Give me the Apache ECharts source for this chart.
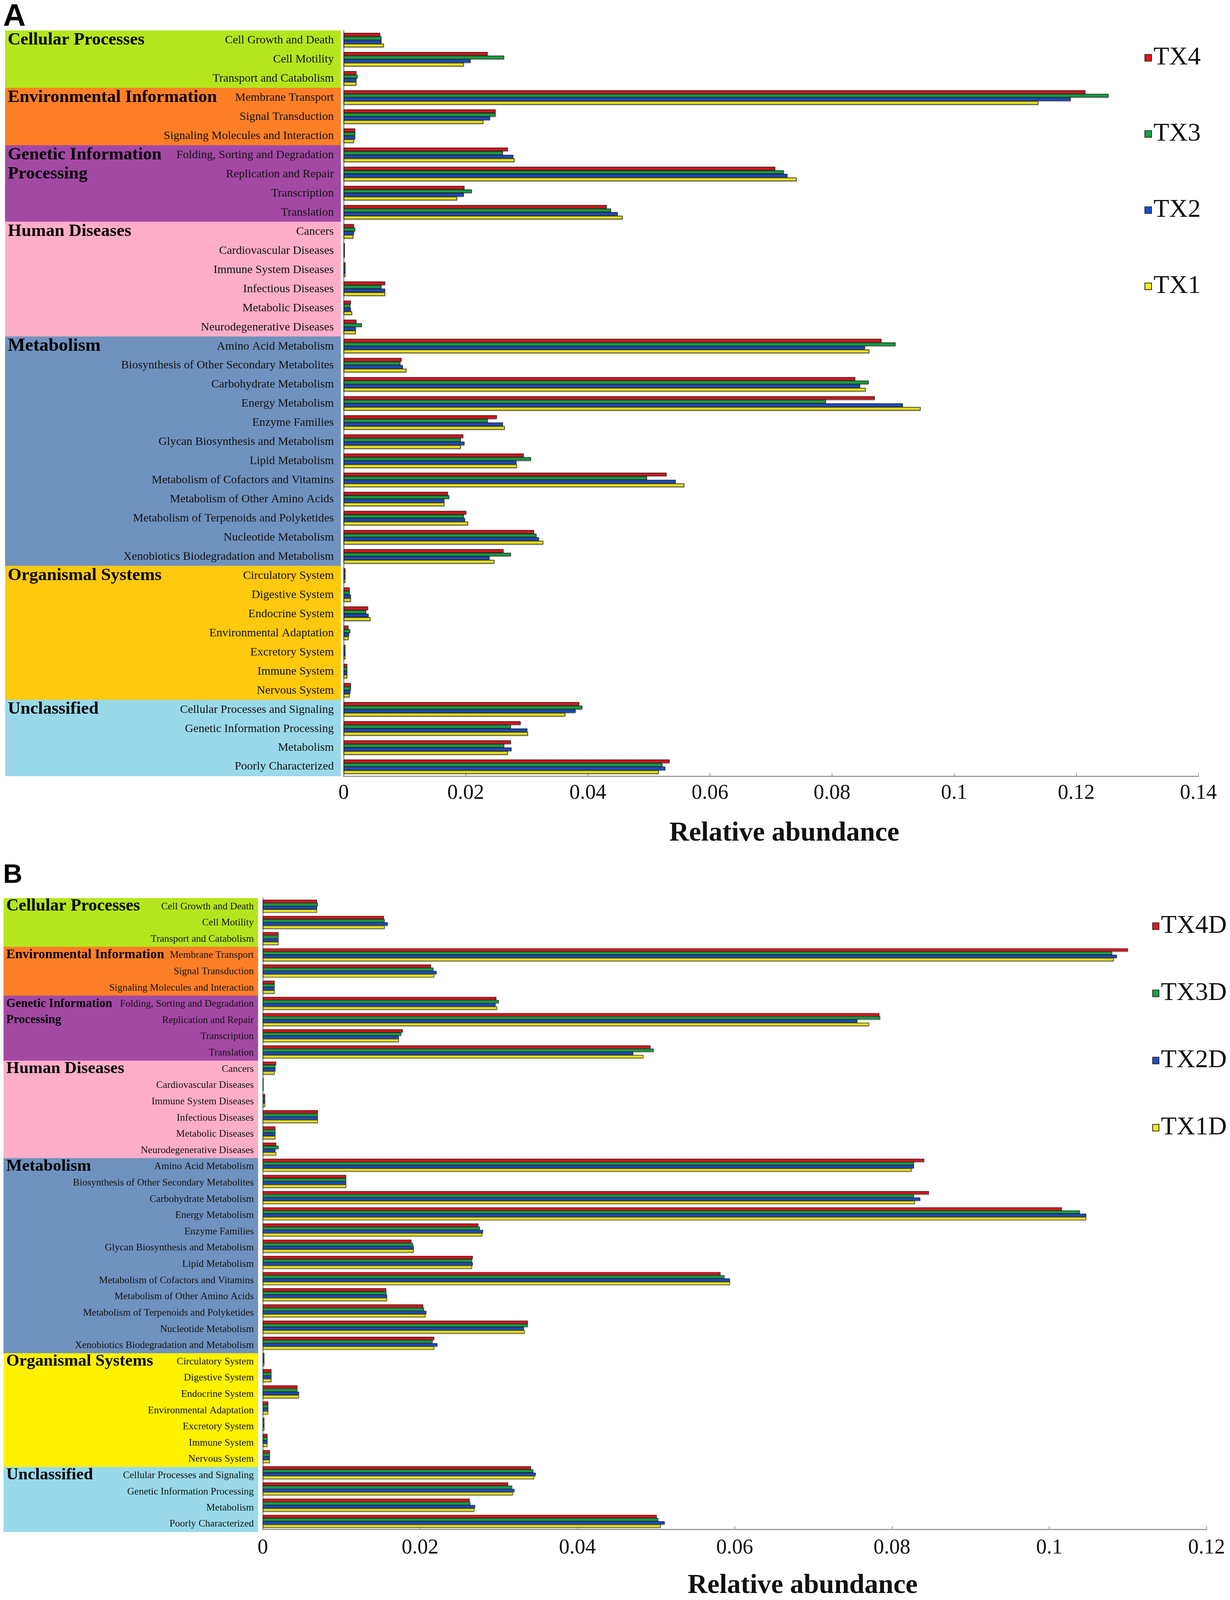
<!DOCTYPE html>
<html>
<head>
<meta charset="utf-8">
<title>KEGG relative abundance</title>
<script src="https://cdn.jsdelivr.net/npm/echarts@6/dist/echarts.min.js"></script>
<style>
  html, body { margin: 0; padding: 0; background: #fff; overflow: hidden; }
  #main { width: 3150px; height: 4236px; }
</style>
</head>
<body>
<div id="main"></div>
<script>
// KEGG level-1 groups and how many level-2 rows each one holds
var groupNames = ['Cellular Processes', 'Environmental Information', 'Genetic Information\nProcessing',
    'Human Diseases', 'Metabolism', 'Organismal Systems', 'Unclassified'];
var groupSizes = [3, 3, 4, 6, 12, 7, 4];
var groupColorsA = ['#b5e61d', '#ff7f27', '#a349a4', '#ffaec9', '#7092be', '#ffc90e', '#99d9ea'];
var groupColorsB = ['#b5e61d', '#ff7f27', '#a349a4', '#ffaec9', '#7092be', '#fff200', '#99d9ea'];

var categories = [
    'Cell Growth and Death', 'Cell Motility', 'Transport and Catabolism',
    'Membrane Transport', 'Signal Transduction', 'Signaling Molecules and Interaction',
    'Folding, Sorting and Degradation', 'Replication and Repair', 'Transcription', 'Translation',
    'Cancers', 'Cardiovascular Diseases', 'Immune System Diseases', 'Infectious Diseases',
    'Metabolic Diseases', 'Neurodegenerative Diseases',
    'Amino Acid Metabolism', 'Biosynthesis of Other Secondary Metabolites', 'Carbohydrate Metabolism',
    'Energy Metabolism', 'Enzyme Families', 'Glycan Biosynthesis and Metabolism', 'Lipid Metabolism',
    'Metabolism of Cofactors and Vitamins', 'Metabolism of Other Amino Acids',
    'Metabolism of Terpenoids and Polyketides', 'Nucleotide Metabolism',
    'Xenobiotics Biodegradation and Metabolism',
    'Circulatory System', 'Digestive System', 'Endocrine System', 'Environmental Adaptation',
    'Excretory System', 'Immune System', 'Nervous System',
    'Cellular Processes and Signaling', 'Genetic Information Processing', 'Metabolism', 'Poorly Characterized'
];

// panel A
var seriesNamesA = ['TX4', 'TX3', 'TX2', 'TX1'];
var tx4 = [0.0060, 0.0236, 0.0021, 0.1215, 0.0249, 0.0019, 0.0269, 0.0707, 0.0198, 0.0431,
    0.0017, 0.0002, 0.0003, 0.0068, 0.0012, 0.0021, 0.0881, 0.0095, 0.0838, 0.0870,
    0.0251, 0.0196, 0.0295, 0.0529, 0.0171, 0.0201, 0.0312, 0.0262, 0.0003, 0.0010,
    0.0040, 0.0008, 0.0003, 0.0006, 0.0012, 0.0386, 0.0290, 0.0274, 0.0534];
var tx3 = [0.0062, 0.0263, 0.0023, 0.1253, 0.0249, 0.0019, 0.0261, 0.0721, 0.0210, 0.0438,
    0.0019, 0.0002, 0.0003, 0.0062, 0.0011, 0.0030, 0.0904, 0.0093, 0.0860, 0.0790,
    0.0236, 0.0192, 0.0307, 0.0497, 0.0173, 0.0197, 0.0316, 0.0274, 0.0003, 0.0010,
    0.0037, 0.0011, 0.0003, 0.0006, 0.0012, 0.0391, 0.0274, 0.0263, 0.0522];
var tx2 = [0.0062, 0.0208, 0.0021, 0.1191, 0.0240, 0.0019, 0.0278, 0.0727, 0.0197, 0.0449,
    0.0017, 0.0002, 0.0003, 0.0068, 0.0012, 0.0020, 0.0854, 0.0097, 0.0846, 0.0916,
    0.0261, 0.0198, 0.0283, 0.0544, 0.0165, 0.0199, 0.0320, 0.0239, 0.0003, 0.0012,
    0.0041, 0.0009, 0.0003, 0.0006, 0.0011, 0.0380, 0.0301, 0.0275, 0.0527];
var tx1 = [0.0066, 0.0197, 0.0021, 0.1138, 0.0229, 0.0017, 0.0280, 0.0742, 0.0186, 0.0457,
    0.0016, 0.0002, 0.0003, 0.0068, 0.0014, 0.0020, 0.0861, 0.0103, 0.0855, 0.0945,
    0.0264, 0.0192, 0.0284, 0.0558, 0.0165, 0.0204, 0.0327, 0.0247, 0.0003, 0.0012,
    0.0044, 0.0008, 0.0003, 0.0006, 0.0010, 0.0363, 0.0302, 0.0269, 0.0516];

// panel B
var seriesNamesB = ['TX4D', 'TX3D', 'TX2D', 'TX1D'];
var tx4d = [0.0069, 0.0154, 0.0020, 0.1100, 0.0214, 0.0015, 0.0297, 0.0784, 0.0178, 0.0493,
    0.0017, 0.0001, 0.0003, 0.0070, 0.0016, 0.0017, 0.0841, 0.0106, 0.0847, 0.1016,
    0.0274, 0.0189, 0.0267, 0.0582, 0.0157, 0.0204, 0.0337, 0.0218, 0.0002, 0.0011,
    0.0044, 0.0007, 0.0002, 0.0006, 0.0009, 0.0341, 0.0312, 0.0263, 0.0501];
var tx3d = [0.0070, 0.0155, 0.0020, 0.1080, 0.0217, 0.0015, 0.0300, 0.0785, 0.0176, 0.0497,
    0.0016, 0.0001, 0.0003, 0.0070, 0.0016, 0.0020, 0.0828, 0.0106, 0.0828, 0.1039,
    0.0276, 0.0191, 0.0266, 0.0587, 0.0157, 0.0205, 0.0337, 0.0216, 0.0002, 0.0011,
    0.0044, 0.0007, 0.0002, 0.0006, 0.0009, 0.0344, 0.0317, 0.0264, 0.0503];
var tx2d = [0.0069, 0.0159, 0.0020, 0.1086, 0.0221, 0.0015, 0.0296, 0.0756, 0.0173, 0.0471,
    0.0016, 0.0001, 0.0003, 0.0070, 0.0016, 0.0016, 0.0828, 0.0106, 0.0836, 0.1047,
    0.0280, 0.0192, 0.0267, 0.0594, 0.0158, 0.0208, 0.0332, 0.0222, 0.0002, 0.0011,
    0.0046, 0.0007, 0.0002, 0.0006, 0.0009, 0.0347, 0.0320, 0.0270, 0.0511];
var tx1d = [0.0069, 0.0155, 0.0020, 0.1082, 0.0218, 0.0015, 0.0298, 0.0771, 0.0173, 0.0484,
    0.0015, 0.0001, 0.0003, 0.0070, 0.0016, 0.0017, 0.0825, 0.0106, 0.0829, 0.1047,
    0.0279, 0.0192, 0.0266, 0.0594, 0.0158, 0.0207, 0.0333, 0.0218, 0.0002, 0.0011,
    0.0046, 0.0007, 0.0002, 0.0006, 0.0009, 0.0345, 0.0318, 0.0269, 0.0506];

var barColors = ['#e8141b', '#13a843', '#1a4fd1', '#f4ec14'];
var groupFontA = [45, 45, 45, 45, 47, 45, 45];
var groupFontB = [44, 34, 31, 43, 43, 43, 43];
var SERIF = 'Liberation Serif';

// the window may be a little shorter than the 4236 design height
var W = window.innerWidth || 3150;
var H = window.innerHeight || 4236;
var fy = H / 4236;
function Y(v) { return Math.round(v * fy); }
document.getElementById('main').style.width = W + 'px';
document.getElementById('main').style.height = H + 'px';

// which group every row belongs to
var groupOf = [];
groupSizes.forEach(function (n, g) {
    for (var k = 0; k < n; k++) groupOf.push(g);
});

// one full-width cell per row, coloured by its group
function blockRows(colors) {
    return categories.map(function (c, i) {
        return { value: 1, itemStyle: { color: colors[groupOf[i]] } };
    });
}

// group names sit on the first row of each group
function groupRows(sizes) {
    return categories.map(function (c, i) {
        var g = groupOf[i];
        var first = i === 0 || g !== groupOf[i - 1];
        return first
            ? { value: 1, label: { show: true, formatter: groupNames[g], fontSize: sizes[g] } }
            : { value: 1, label: { show: false } };
    });
}

function labelPanel(gi, colors, subSize, subDist, grpSizes, rowH) {
    // cells a touch taller than a row so neighbours overlap and leave no seam
    return [{
        type: 'bar', xAxisIndex: gi, yAxisIndex: gi, silent: true,
        barWidth: rowH + 2, barGap: '-100%',
        data: blockRows(colors),
        label: {
            show: true, position: 'insideRight', distance: subDist,
            formatter: '{b}', fontFamily: SERIF, fontSize: subSize, color: '#111'
        }
    }, {
        type: 'bar', xAxisIndex: gi, yAxisIndex: gi, silent: true,
        barWidth: rowH, barGap: '-100%', z: 3,
        itemStyle: { color: 'rgba(0,0,0,0)' },
        data: groupRows(grpSizes),
        label: {
            position: 'insideTopLeft', distance: 0, offset: [7, 0],
            fontFamily: SERIF, fontWeight: 'bold', color: '#000',
            lineHeight: rowH, align: 'left', verticalAlign: 'top'
        }
    }];
}

function dataBars(gi, names, values, gap, border) {
    return names.map(function (n, k) {
        return {
            name: n, type: 'bar', xAxisIndex: gi, yAxisIndex: gi,
            data: values[k], barGap: '0%', barCategoryGap: gap,
            itemStyle: {
                color: barColors[k], borderColor: '#262626', borderWidth: border,
                shadowColor: 'rgba(0,0,0,0.25)', shadowOffsetY: 2, shadowBlur: 2
            }
        };
    });
}

function hiddenX(gi) {
    return { gridIndex: gi, type: 'value', min: 0, max: 1, show: false };
}
function hiddenY(gi) {
    return { gridIndex: gi, type: 'category', data: categories, inverse: true, show: false };
}
function valueX(gi, max, labelGap, nameGap, namePad) {
    return {
        gridIndex: gi, type: 'value', min: 0, max: max, interval: 0.02,
        axisLine: { show: true, lineStyle: { color: '#9a9a9a', width: 3 } },
        axisTick: { show: true, inside: true, length: 8, lineStyle: { color: '#9a9a9a', width: 2 } },
        splitLine: { show: false },
        axisLabel: { fontFamily: SERIF, fontSize: 54, color: '#111', margin: labelGap },
        name: 'Relative abundance', nameLocation: 'middle', nameGap: nameGap,
        nameTextStyle: { fontFamily: SERIF, fontSize: 70, fontWeight: 'bold', color: '#111', padding: [0, 0, 0, namePad] }
    };
}
function categoryY(gi) {
    return {
        gridIndex: gi, type: 'category', data: categories, inverse: true,
        axisLine: { show: true, lineStyle: { color: '#9a9a9a', width: 3 } },
        axisTick: { show: false }, axisLabel: { show: false }
    };
}

function DrawChart() {
    var myChart = echarts.init(document.getElementById('main'));
    var option = {
        backgroundColor: '#fff',
        animation: false,
        graphic: [
            { type: 'text', left: 8, top: Y(4), style: { text: 'A', font: 'bold 80px "Liberation Sans"', fill: '#000' } },
            { type: 'text', left: 8, top: Y(2282), style: { text: 'B', font: 'bold 68px "Liberation Sans"', fill: '#000' } }
        ],
        legend: [{
            data: seriesNamesA, orient: 'vertical', left: 2926, top: Y(148) - 35,
            itemWidth: 17, itemHeight: 17, itemGap: Y(202) - 70, icon: 'rect',
            textStyle: { fontFamily: SERIF, fontSize: 66, lineHeight: 70, color: '#111' }
        }, {
            data: seriesNamesB, orient: 'vertical', left: 2946, top: Y(2447) - 35,
            itemWidth: 16, itemHeight: 17, itemGap: Y(178) - 70, icon: 'rect',
            textStyle: { fontFamily: SERIF, fontSize: 66, lineHeight: 70, color: '#111' }
        }],
        grid: [
            { left: 13, top: Y(81), width: 860, height: Y(1974) },
            { left: 880, top: Y(81), width: 2189, height: Y(1974) },
            { left: 9, top: Y(2378), width: 652, height: Y(1678) },
            { left: 673, top: Y(2378), width: 2417, height: Y(1678) }
        ],
        xAxis: [hiddenX(0), valueX(1, 0.14, Y(18), Y(116), 68), hiddenX(2), valueX(3, 0.12, Y(22), Y(114), 348)],
        yAxis: [hiddenY(0), categoryY(1), hiddenY(2), categoryY(3)],
        series: []
            .concat(labelPanel(0, groupColorsA, 30, 18, groupFontA, Y(1974) / 39))
            .concat(dataBars(1, seriesNamesA, [tx4, tx3, tx2, tx1], '25%', 1.5))
            .concat(labelPanel(2, groupColorsB, 25.5, 11, groupFontB, Y(1678) / 39))
            .concat(dataBars(3, seriesNamesB, [tx4d, tx3d, tx2d, tx1d], '21%', 1.2))
    };
    myChart.setOption(option);
}

DrawChart();
</script>
</body>
</html>
